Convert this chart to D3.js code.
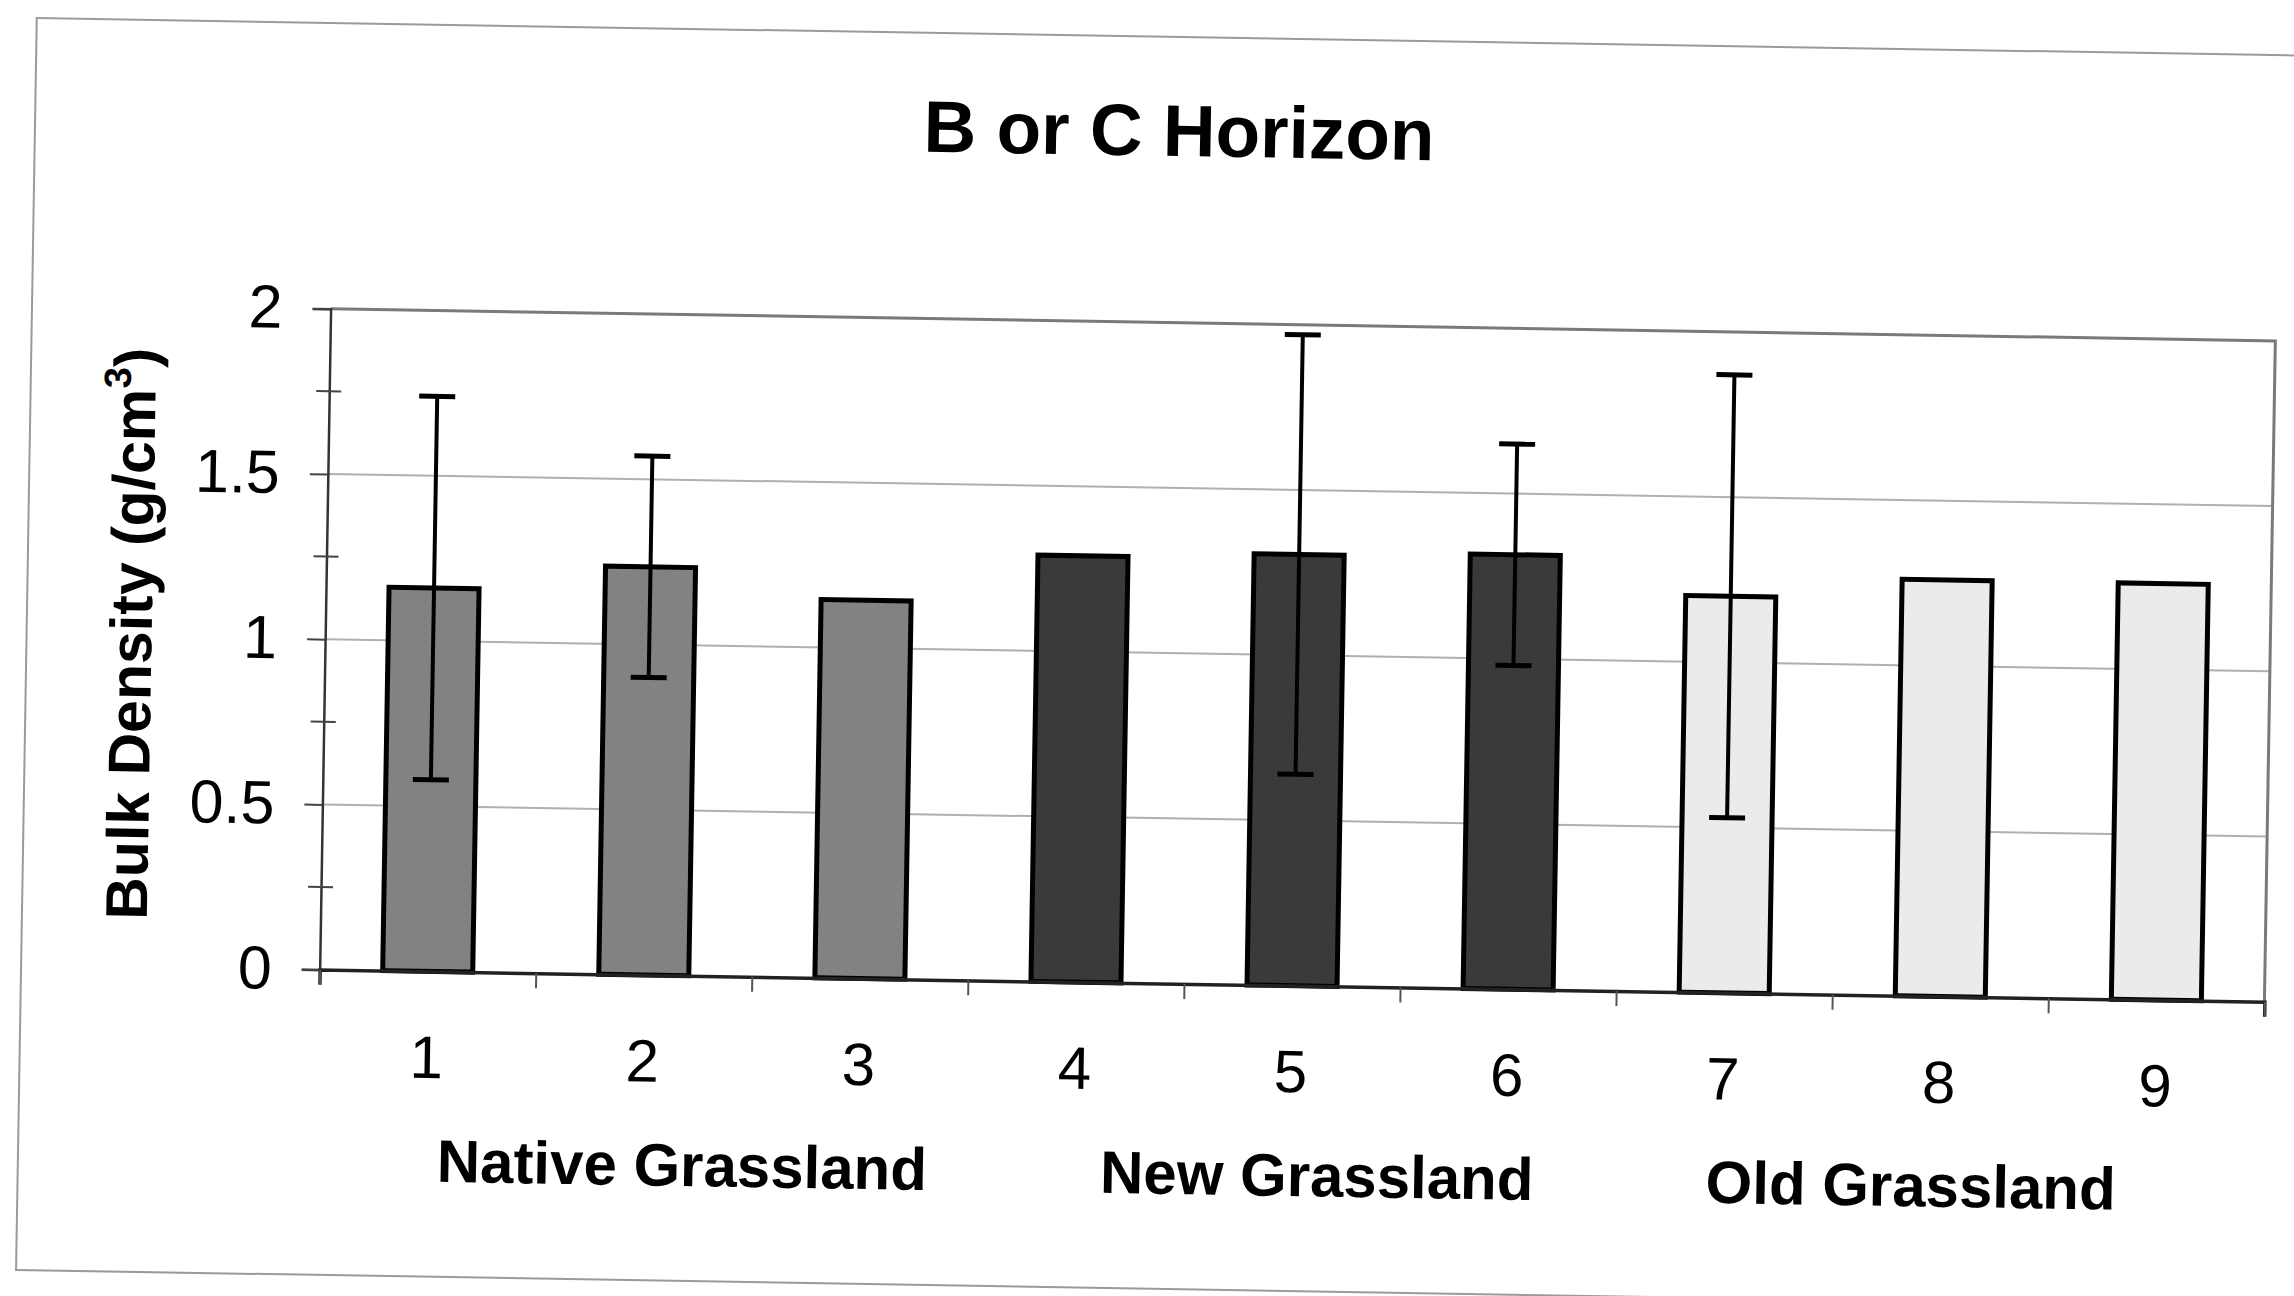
<!DOCTYPE html>
<html>
<head>
<meta charset="utf-8">
<script src="https://cdn.jsdelivr.net/npm/d3@7"></script>
<style>
  html, body { margin: 0; padding: 0; background: #fff; }
  svg { display: block; }
  text { font-family: "Liberation Sans", Arial, sans-serif; fill: #000; }
</style>
</head>
<body>
<svg id="chart" width="2294" height="1296"></svg>
<script>
// Bulk density per site, grouped by grassland type
const categories = ["1", "2", "3", "4", "5", "6", "7", "8", "9"];
const groupNames = ["Native Grassland", "New Grassland", "Old Grassland"];
const siteGroup = [0, 0, 0, 1, 1, 1, 2, 2, 2];
const density = [1.16, 1.235, 1.145, 1.29, 1.305, 1.315, 1.20, 1.26, 1.26];
const densityErr = [0.58, 0.335, null, null, 0.665, 0.335, 0.67, null, null];
const yTicks = [0, 0.5, 1, 1.5, 2];
const yMinorTicks = [0.25, 0.75, 1.25, 1.75];
const titleText = "B or C Horizon";

const W = 2294, H = 1296;
const M = { left: 330.6, top: 308.7 };
const plotW = 1945, plotH = 661;
const tilt = 0.948; // page sits slightly askew

const groupFill = ["#828282", "#3a3a3a", "#ebebeb"];
const groupLabelX = [696, 1331, 1925];

const svg = d3.select("#chart");
svg.append("rect").attr("width", W).attr("height", H).attr("fill", "#fff");

const page = svg.append("g")
  .attr("transform", `rotate(${tilt}, ${M.left}, ${M.top})`);

// page frame
page.append("rect")
  .attr("x", 32).attr("y", 23)
  .attr("width", 2340).attr("height", 1252)
  .attr("fill", "none").attr("stroke", "#9a9a9a").attr("stroke-width", 2);

// title
page.append("text")
  .attr("x", 1176).attr("y", 142)
  .attr("text-anchor", "middle")
  .attr("font-size", 73).attr("font-weight", "bold")
  .text(titleText);

const plot = page.append("g").attr("transform", `translate(${M.left},${M.top})`);

const x = d3.scaleBand().domain(categories).range([0, plotW])
  .paddingInner(1.4 / 2.4).paddingOuter(0.7 / 2.4);
const xEdge = d3.scaleLinear().domain([0, categories.length]).range([0, plotW]);
const y = d3.scaleLinear().domain([0, 2]).range([plotH, 0]);

// gridlines
plot.append("g")
  .selectAll("line")
  .data(yTicks.filter(t => t > 0 && t < 2))
  .join("line")
  .attr("x1", 0).attr("x2", plotW)
  .attr("y1", d => y(d)).attr("y2", d => y(d))
  .attr("stroke", "#b0b0b0").attr("stroke-width", 2);

// plot area border (top and right)
plot.append("path")
  .attr("d", `M0,0 H${plotW} V${plotH}`)
  .attr("fill", "none").attr("stroke", "#7a7a7a").attr("stroke-width", 3);

// bars
plot.append("g")
  .selectAll("rect")
  .data(categories)
  .join("rect")
  .attr("x", d => x(d))
  .attr("width", x.bandwidth())
  .attr("y", (d, i) => y(density[i]))
  .attr("height", (d, i) => y(0) - y(density[i]))
  .attr("fill", (d, i) => groupFill[siteGroup[i]])
  .attr("stroke", "#000").attr("stroke-width", 5);

// error bars
const capW = 36;
const errG = plot.append("g").attr("stroke", "#000").attr("stroke-width", 4);
categories.forEach((c, i) => {
  const e = densityErr[i];
  if (e == null) return;
  const cx = x(c) + x.bandwidth() / 2;
  const hi = y(density[i] + e), lo = y(density[i] - e);
  errG.append("line").attr("x1", cx).attr("x2", cx).attr("y1", hi).attr("y2", lo);
  errG.append("line").attr("x1", cx - capW / 2).attr("x2", cx + capW / 2).attr("y1", hi).attr("y2", hi).attr("stroke-width", 5);
  errG.append("line").attr("x1", cx - capW / 2).attr("x2", cx + capW / 2).attr("y1", lo).attr("y2", lo).attr("stroke-width", 5);
});

// y axis
const yAxis = plot.append("g")
  .call(d3.axisLeft(y).tickValues(yTicks).tickSize(18).tickPadding(30)
    .tickFormat(d => String(d)));
yAxis.select(".domain").attr("stroke", "#333").attr("stroke-width", 2.5);
yAxis.selectAll(".tick line").attr("stroke", "#444").attr("stroke-width", 2);
yAxis.selectAll(".tick text").attr("font-size", 61).attr("font-family", "Liberation Sans, Arial, sans-serif");

// minor y ticks crossing the axis
plot.append("g")
  .selectAll("line")
  .data(yMinorTicks)
  .join("line")
  .attr("x1", -13).attr("x2", 12)
  .attr("y1", d => y(d)).attr("y2", d => y(d))
  .attr("stroke", "#444").attr("stroke-width", 2);

// x axis: category boundary ticks
const xTickAxis = plot.append("g")
  .attr("transform", `translate(0,${plotH})`)
  .call(d3.axisBottom(xEdge).tickValues(d3.range(categories.length + 1)).tickSize(15).tickFormat(""));
xTickAxis.select(".domain").attr("stroke", "#222").attr("stroke-width", 3.5);
xTickAxis.selectAll(".tick line").attr("stroke", "#555").attr("stroke-width", 2);

// x axis: category labels
const xLabelAxis = plot.append("g")
  .attr("transform", `translate(0,${plotH})`)
  .call(d3.axisBottom(x).tickSize(0).tickPadding(64));
xLabelAxis.select(".domain").remove();
xLabelAxis.selectAll(".tick text").attr("font-size", 60).attr("font-family", "Liberation Sans, Arial, sans-serif");

// group labels
page.append("g")
  .selectAll("text")
  .data(groupNames)
  .join("text")
  .attr("x", (d, i) => groupLabelX[i])
  .attr("y", 1180)
  .attr("text-anchor", "middle")
  .attr("font-size", 60).attr("font-weight", "bold")
  .text(d => d);

// y axis title
const yTitle = page.append("text")
  .attr("transform", "translate(157,637) rotate(-90)")
  .attr("text-anchor", "middle")
  .attr("font-size", 59).attr("font-weight", "bold");
yTitle.append("tspan").text("Bulk Density (g/cm");
yTitle.append("tspan").attr("font-size", 38).attr("dy", -25).text("3");
yTitle.append("tspan").attr("dy", 25).text(")");
</script>
</body>
</html>
